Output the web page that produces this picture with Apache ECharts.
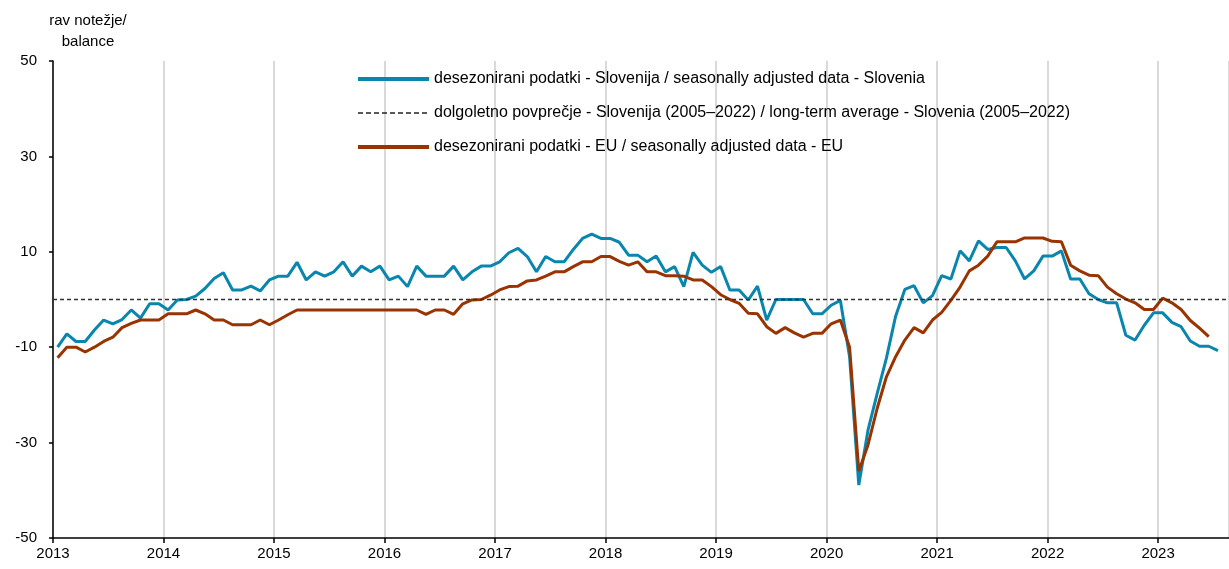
<!DOCTYPE html>
<html>
<head>
<meta charset="utf-8">
<script src="https://cdn.jsdelivr.net/npm/echarts@6/dist/echarts.min.js"></script>
<style>
html,body{margin:0;padding:0;background:#fff;}
#c{width:1229px;height:569px;}
</style>
</head>
<body>
<div id="c"></div>
<script>
// Monthly data, January 2013 onwards
const startYear = 2013;
const yearLabels = ['2013','2014','2015','2016','2017','2018','2019','2020','2021','2022','2023'];
const yTicks = [-50, -30, -10, 10, 30, 50];
const longTermAvg = 0.1;

const sloValues = [
  -10.0, -7.2, -8.8, -8.8, -6.4, -4.3, -5.1, -4.2, -2.2, -3.9, -0.9, -0.9,
  -2.2, -0.1, 0.0, 0.7, 2.3, 4.4, 5.6, 2.0, 2.0, 2.8, 1.8, 4.1,
  4.9, 4.9, 7.8, 4.1, 5.8, 4.9, 5.8, 7.9, 4.9, 7.0, 5.8, 7.0,
  4.1, 4.9, 2.7, 7.0, 4.9, 4.9, 4.9, 7.0, 4.1, 5.8, 7.0, 7.0,
  7.9, 9.8, 10.7, 9.0, 5.8, 9.0, 7.9, 7.9, 10.5, 12.8, 13.7, 12.8,
  12.8, 12.0, 9.3, 9.3, 7.9, 9.1, 5.8, 6.9, 2.7, 9.9, 7.2, 5.7,
  6.9, 2.0, 2.0, -0.1, 2.8, -4.3, 0.0, 0.0, 0.0, 0.0, -3.0, -3.0,
  -1.2, -0.2, -12.0, -38.9, -27.4, -19.7, -12.3, -3.5, 2.1, 2.9, -0.7, 0.8,
  5.0, 4.3, 10.2, 8.1, 12.3, 10.5, 10.9, 10.9, 8.1, 4.3, 6.0, 9.1,
  9.1, 10.2, 4.3, 4.3, 1.2, 0.0, -0.7, -0.7, -7.5, -8.5, -5.4, -2.8,
  -2.8, -4.8, -5.7, -8.7, -9.8, -9.8, -10.7
];

const euValues = [
  -12.2, -10.0, -10.0, -11.0, -10.0, -8.8, -7.9, -5.9, -5.0, -4.3, -4.3, -4.3,
  -3.0, -3.0, -3.0, -2.2, -3.0, -4.3, -4.3, -5.3, -5.3, -5.3, -4.3, -5.3,
  -4.3, -3.2, -2.2, -2.2, -2.2, -2.2, -2.2, -2.2, -2.2, -2.2, -2.2, -2.2,
  -2.2, -2.2, -2.2, -2.2, -3.1, -2.2, -2.2, -3.1, -0.9, -0.1, 0.0, 0.9,
  2.0, 2.7, 2.8, 3.9, 4.1, 4.9, 5.8, 5.8, 6.9, 7.9, 7.9, 9.0,
  9.0, 8.0, 7.2, 7.9, 5.8, 5.8, 5.0, 5.0, 4.9, 4.1, 4.1, 2.7,
  1.0, 0.0, -0.8, -2.9, -3.0, -5.7, -7.1, -5.9, -7.0, -7.9, -7.1, -7.1,
  -5.1, -4.3, -10.0, -36.0, -30.5, -22.8, -16.2, -12.0, -8.5, -5.9, -7.0, -4.3,
  -2.7, -0.2, 2.6, 6.0, 7.2, 9.1, 12.1, 12.1, 12.1, 12.9, 12.9, 12.9,
  12.2, 12.1, 7.2, 6.0, 5.1, 5.0, 2.6, 1.2, 0.1, -0.7, -2.1, -2.1,
  0.3, -0.7, -2.1, -4.4, -6.0, -7.8
];

const seriesNames = [
  'desezonirani podatki - Slovenija / seasonally adjusted data - Slovenia',
  'dolgoletno povprečje - Slovenija (2005–2022) / long-term average - Slovenia (2005–2022)',
  'desezonirani podatki - EU / seasonally adjusted data - EU'
];

const BLUE = '#0a86ae';
const BROWN = '#993300';
const toPoints = arr => arr.map((v, i) => [i + 0.5, v]);
const FONT = '"Liberation Sans", Arial, sans-serif';

const chart = echarts.init(document.getElementById('c'), null, {renderer: 'canvas'});
chart.setOption({
  animation: false,
  backgroundColor: '#fff',
  textStyle: {fontFamily: FONT},
  grid: {left: 53, right: 0, top: 61, bottom: 31, containLabel: false},
  legend: {
    orient: 'vertical',
    left: 351,
    top: 66,
    itemWidth: 71,
    itemHeight: 16,
    itemGap: 18,
    textStyle: {fontFamily: FONT, fontSize: 16, color: '#000'},
    itemStyle: {opacity: 0},
    data: [
      {name: seriesNames[0], lineStyle: {color: BLUE, width: 4}},
      {name: seriesNames[1], lineStyle: {color: '#222', width: 1.3, type: [5, 3]}},
      {name: seriesNames[2], lineStyle: {color: BROWN, width: 4}}
    ]
  },
  graphic: [{
    type: 'text',
    x: 88,
    y: 10,
    style: {
      text: 'rav notežje/\nbalance',
      font: '15px ' + FONT,
      fill: '#000',
      align: 'center',
      verticalAlign: 'top',
      lineHeight: 21
    }
  }],
  xAxis: {
    type: 'value',
    min: 0,
    max: 127.7,
    interval: 12,
    axisLine: {show: true, onZero: false, lineStyle: {color: '#000', width: 1.5}},
    axisTick: {show: true, length: 5, lineStyle: {color: '#000', width: 1.5}},
    axisLabel: {
      margin: 8,
      fontSize: 15,
      color: '#000',
      fontFamily: FONT,
      showMaxLabel: false,
      formatter: v => (v % 12 === 0 ? (yearLabels[v / 12] || '') : '')
    },
    splitLine: {show: true, lineStyle: {color: '#d9d9d9', width: 2}}
  },
  yAxis: {
    type: 'value',
    min: -50,
    max: 50,
    axisLine: {show: true, lineStyle: {color: '#000', width: 1.5}},
    axisTick: {show: true, length: 4, customValues: yTicks, lineStyle: {color: '#000', width: 1.5}},
    axisLabel: {margin: 16, fontSize: 15, color: '#000', fontFamily: FONT, customValues: yTicks},
    splitLine: {show: false}
  },
  series: [
    {
      name: seriesNames[0],
      type: 'line',
      data: toPoints(sloValues),
      symbol: 'none',
      z: 3,
      lineStyle: {color: BLUE, width: 3},
      itemStyle: {color: BLUE}
    },
    {
      name: seriesNames[1],
      type: 'line',
      data: [],
      symbol: 'none',
      lineStyle: {color: '#222', width: 1.3, type: [4, 3]},
      itemStyle: {color: '#222'},
      markLine: {
        silent: true,
        symbol: 'none',
        label: {show: false},
        lineStyle: {color: '#333', width: 1.3, type: [4, 3]},
        data: [{yAxis: longTermAvg}]
      }
    },
    {
      name: seriesNames[2],
      type: 'line',
      data: toPoints(euValues),
      symbol: 'none',
      z: 4,
      lineStyle: {color: BROWN, width: 3},
      itemStyle: {color: BROWN}
    }
  ]
});
</script>
</body>
</html>
